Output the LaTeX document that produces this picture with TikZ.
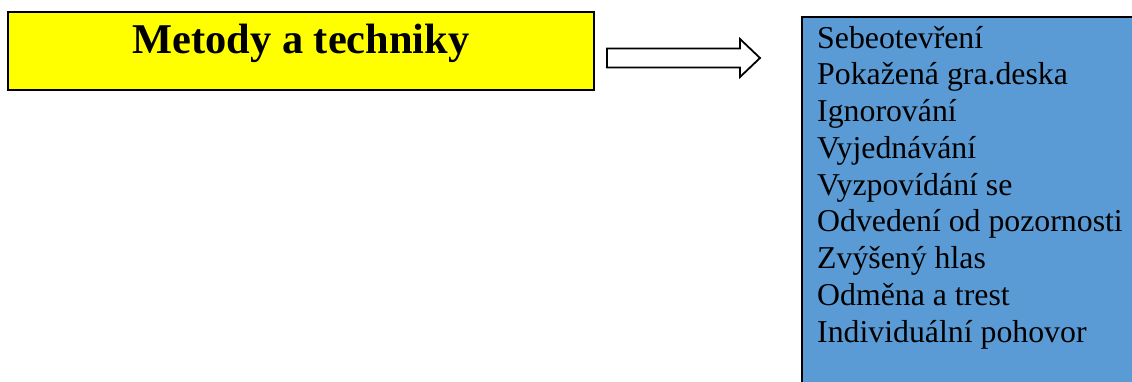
\documentclass[tikz,border=0pt]{standalone}
\usepackage{fontspec}
\setmainfont{Liberation Serif}
\definecolor{boxyellow}{HTML}{FFFF00}
\definecolor{boxblue}{HTML}{5B9BD5}
\tikzset{
  frame/.style={draw=black, line width=2pt},
  item/.style={anchor=base west, inner sep=0pt, font=\fontsize{31.8}{36.75}\selectfont},
}
\begin{document}
\begin{tikzpicture}[x=1pt,y=-1pt]
\useasboundingbox (0,0) rectangle (1132,381);
\clip (0,0) rectangle (1132,381);
% yellow title box
\draw[frame, fill=boxyellow] (8,12) rectangle (594,90);
\node[anchor=base, inner sep=0pt, font=\fontsize{42.4}{50}\selectfont\bfseries] (title) at (301,53) {Metody a techniky};
% block arrow
\coordinate (a1) at (607,48.5);
\coordinate (tip) at (760,58);
\draw[line width=1.8pt, fill=white, line join=miter]
  (a1) -- (740,48.5) -- (740,39) -- (tip) -- (740,77) -- (740,67.5) -- (607,67.5) -- cycle;
% blue list box
\draw[frame, fill=boxblue] (802,17) rectangle (1145,395);
\foreach \t [count=\i from 0] in {Sebeotevření,Pokažená gra.deska,Ignorování,Vyjednávání,Vyzpovídání se,Odvedení od pozornosti,Zvýšený hlas,Odměna a trest,Individuální pohovor}{
  \node[item] (item\i) at (817,48+36.75*\i) {\t};
}
\end{tikzpicture}
\end{document}
